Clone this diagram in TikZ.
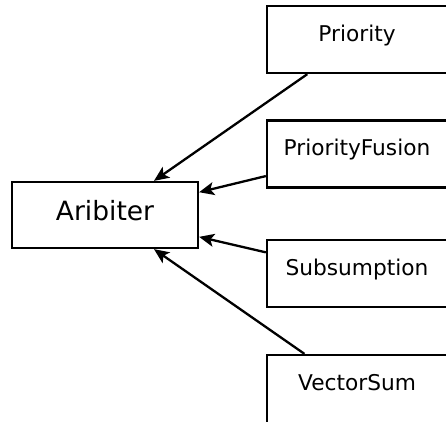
\documentclass[tikz,border=0pt]{standalone}
\usepackage{fontspec}
\setmainfont{DejaVu Sans}
\usetikzlibrary{arrows.meta}
\begin{document}
\begin{tikzpicture}[x=1pt,y=-1pt,
  box/.style={draw, line width=2.3pt, inner sep=0pt, minimum width=180pt,
    minimum height=67pt, text height=35pt, text depth=32pt,
    font=\fontsize{21.7}{26}\selectfont},
  tallbox/.style={box, minimum height=71pt, text depth=36pt},
  mainbox/.style={draw, line width=2.3pt, inner sep=0pt, minimum width=186pt,
    minimum height=66pt, text height=38pt, text depth=28pt,
    font=\fontsize{26.5}{31}\selectfont},
  edge/.style={line width=2.3pt, -{Stealth[length=15pt,width=13pt,inset=3.5pt]}}]
\useasboundingbox (0,0) rectangle (446,421);
\clip (0,0) rectangle (446,421);
\node[mainbox] (arb) at (105,215) {Aribiter};
\node[box] (pri) at (357,39.5) {Priority};
\node[box] (pf) at (357,154) {PriorityFusion};
\node[box] (sub) at (357,273.5) {Subsumption};
\node[tallbox] (vs) at (357,390.5) {VectorSum};
\draw[edge] (pri) -- (arb);
\draw[edge] (pf) -- (arb);
\draw[edge] (sub) -- (arb);
\draw[edge] (vs) -- (arb);
\end{tikzpicture}
\end{document}
